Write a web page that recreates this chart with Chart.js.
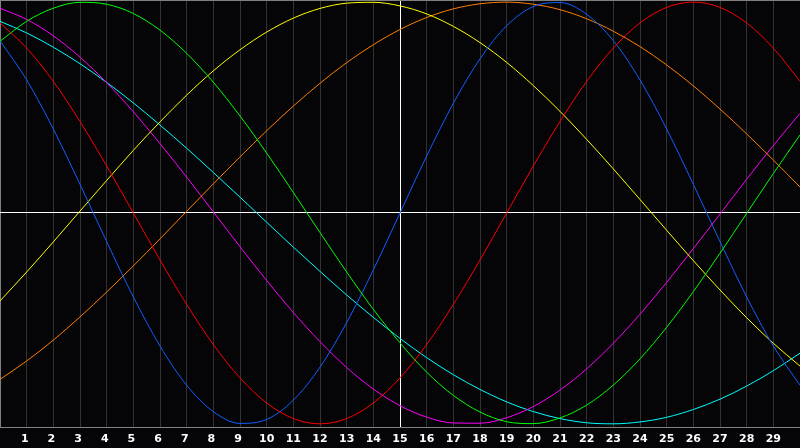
<!DOCTYPE html>
<html>
<head>
<meta charset="utf-8">
<style>
  html, body { margin: 0; padding: 0; background: #050508; }
  canvas { display: block; }
</style>
<script src="https://cdn.jsdelivr.net/npm/chart.js@4/dist/chart.umd.min.js"></script>
</head>
<body>
<canvas id="bio" width="800" height="448"></canvas>
<script>
'use strict';

/*--- data ---*/
var days = [0, 1, 2, 3, 4, 5, 6, 7, 8, 9, 10, 11, 12, 13, 14, 15,
  16, 17, 18, 19, 20, 21, 22, 23, 24, 25, 26, 27, 28, 29, 30];

var red = [0.901, 0.782, 0.624, 0.434, 0.223, 0, -0.223, -0.434, -0.624, -0.782, -0.901,
  -0.975, -1, -0.975, -0.901, -0.782, -0.624, -0.434, -0.223, 0, 0.223,
  0.434, 0.624, 0.782, 0.901, 0.975, 1, 0.975, 0.901, 0.782, 0.624];

var green = [0.814, 0.909, 0.971, 0.999, 0.990, 0.946, 0.867, 0.757, 0.620, 0.460, 0.284,
  0.097, -0.093, -0.280, -0.457, -0.616, -0.755, -0.865, -0.944, -0.990, -0.999,
  -0.972, -0.911, -0.816, -0.692, -0.542, -0.373, -0.191, -0.002, 0.187, 0.370];

var blue = [0.817, 0.631, 0.398, 0.136, -0.136, -0.398, -0.631, -0.817, -0.942, -0.998, -0.979,
  -0.888, -0.731, -0.520, -0.270, 0, 0.270, 0.520, 0.731, 0.888, 0.979,
  0.998, 0.942, 0.817, 0.631, 0.398, 0.136, -0.136, -0.398, -0.631, -0.817];

var yellow = [-0.417, -0.280, -0.137, 0.009, 0.154, 0.297, 0.432, 0.559, 0.674, 0.774, 0.858,
  0.924, 0.970, 0.995, 0.999, 0.982, 0.944, 0.885, 0.808, 0.714, 0.604,
  0.482, 0.349, 0.209, 0.064, -0.082, -0.226, -0.365, -0.497, -0.618, -0.726];

var orange = [-0.789, -0.702, -0.603, -0.493, -0.375, -0.251, -0.123, 0.008, 0.138, 0.266, 0.390,
  0.507, 0.615, 0.713, 0.798, 0.870, 0.927, 0.968, 0.992, 1, 0.990,
  0.964, 0.921, 0.862, 0.789, 0.702, 0.603, 0.493, 0.375, 0.251, 0.123];

var magenta = [0.971, 0.918, 0.840, 0.739, 0.618, 0.480, 0.329, 0.170, 0.005, -0.160, -0.320,
  -0.472, -0.610, -0.733, -0.835, -0.914, -0.968, -0.996, -0.997, -0.971, -0.918,
  -0.840, -0.739, -0.618, -0.480, -0.329, -0.169, -0.005, 0.160, 0.320, 0.472];

var cyan = [0.909, 0.854, 0.786, 0.708, 0.619, 0.522, 0.417, 0.307, 0.192, 0.075, -0.044,
  -0.162, -0.277, -0.389, -0.495, -0.595, -0.686, -0.767, -0.837, -0.896, -0.942,
  -0.975, -0.995, -1, -0.991, -0.969, -0.932, -0.883, -0.821, -0.748, -0.665];

var series = [
  { data: red, color: '#ff0000' },
  { data: green, color: '#00ff00' },
  { data: blue, color: '#1060ff' },
  { data: yellow, color: '#ffff00' },
  { data: orange, color: '#ff8000' },
  { data: magenta, color: '#ff00ff' },
  { data: cyan, color: '#00ffff' }
];

/*--- chart ---*/
var yMax = 1.01;
var yMin = -1.015;

new Chart(document.getElementById('bio'), {
  type: 'line',
  data: {
    labels: days,
    datasets: series.map(function (s) {
      return {
        data: s.data,
        borderColor: s.color,
        borderWidth: 1,
        pointRadius: 0,
        pointHoverRadius: 0,
        pointHitRadius: 0,
        fill: false,
        cubicInterpolationMode: 'monotone'
      };
    })
  },
  options: {
    responsive: false,
    animation: false,
    events: [],
    layout: { padding: 0, autoPadding: false },
    plugins: { legend: { display: false }, tooltip: { enabled: false } },
    scales: {
      x: {
        grid: {
          drawTicks: false,
          color: function (ctx) {
            if (ctx.index === 15) return '#ffffff';
            if (ctx.index === 0) return '#808080';
            if (ctx.index === 30) return 'rgba(0,0,0,0)';
            return '#333333';
          }
        },
        border: { color: '#808080' },
        ticks: {
          autoSkip: false,
          maxRotation: 0,
          padding: 0,
          color: '#ffffff',
          // tall line height pushes the labels down (tick padding would shift the plot sideways)
          font: { family: 'DejaVu Sans', size: 11, weight: 'bold', lineHeight: '24px' },
          callback: function (v, i) {
            if (i === 0 || i === 30) return '';
            return i < 10 ? i + ' ' : '' + i;
          }
        },
        afterFit: function (s) { s.height = 21; s.paddingLeft = 0; s.paddingRight = 0; }
      },
      y: {
        min: yMin,
        max: yMax,
        ticks: { display: false },
        border: { display: false },
        grid: {
          drawTicks: false,
          color: function (ctx) {
            return ctx.tick.value === 0 ? '#ffffff' : '#808080';
          }
        },
        afterBuildTicks: function (s) { s.ticks = [{ value: 0 }, { value: yMax }]; },
        afterFit: function (s) { s.width = 0; }
      }
    }
  }
});
</script>
</body>
</html>
